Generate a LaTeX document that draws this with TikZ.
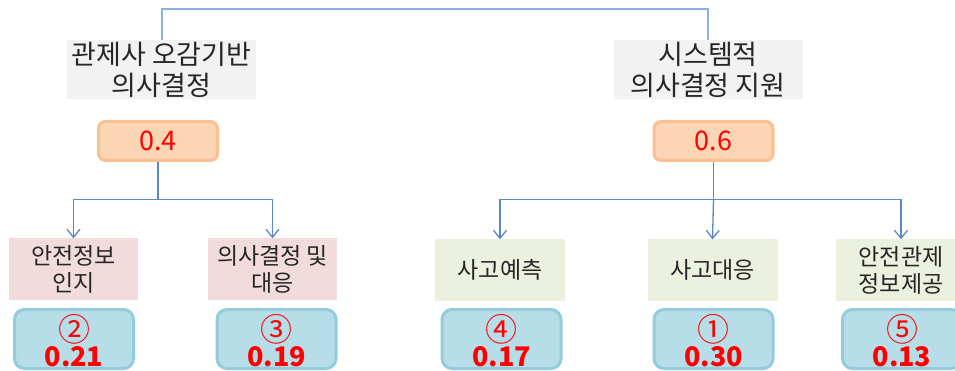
\documentclass[tikz,border=0pt]{standalone}
\usepackage{fontspec}
\setmainfont{Noto Sans CJK KR}
\usetikzlibrary{arrows.meta}
\definecolor{graybg}{HTML}{F2F2F2}
\definecolor{pinkbg}{HTML}{F2DCDB}
\definecolor{greenbg}{HTML}{EBF1DE}
\definecolor{orfill}{HTML}{FCD5B5}
\definecolor{orline}{HTML}{FAC090}
\definecolor{blfill}{HTML}{B7DEE8}
\definecolor{blline}{HTML}{93CDDD}
\definecolor{conn}{HTML}{5A87C5}
\definecolor{connlight}{HTML}{8DB0DE}
\definecolor{txt}{HTML}{262626}
\tikzset{
  toplabel/.style={fill=graybg, minimum width=189pt, minimum height=59pt, inner sep=0pt, align=center,
    font=\fontsize{27}{31}\selectfont, text=txt},
  weightbox/.style={fill=orfill, draw=orline, line width=3pt, rounded corners=7pt, minimum width=119pt,
    minimum height=39pt, inner sep=0pt, font=\fontsize{27}{30}\selectfont, text=red},
  pinklabel/.style={fill=pinkbg, minimum width=129pt, minimum height=61pt, inner sep=0pt, align=center,
    font=\fontsize{23}{27}\selectfont, text=txt},
  greenlabel/.style={fill=greenbg, minimum width=130pt, minimum height=61pt, inner sep=0pt, align=center,
    font=\fontsize{23}{27}\selectfont, text=txt},
  scorebox/.style={fill=blfill, draw=blline, line width=3pt, rounded corners=10pt, minimum width=119pt,
    minimum height=59pt, inner sep=0pt},
  rank/.style={anchor=base, inner sep=0pt, text=red, font=\fontsize{32}{32}\selectfont},
  score/.style={anchor=base, inner sep=0pt, text=red, font=\fontsize{27}{27}\selectfont\bfseries},
  conline/.style={draw=conn, line width=1.3pt},
  arr/.style={draw=conn, line width=1.3pt, -{Straight Barb[length=8pt, width=13pt, line width=1.3pt]}},
}
\begin{document}
\begin{tikzpicture}[x=1pt, y=-1pt]
\useasboundingbox (0,0) rectangle (955,371);
\clip (0,0) rectangle (955,371);
% top labels
\node[toplabel] (L) at (161.5,69.5) {관제사 오감기반\\의사결정};
\node[toplabel] (R) at (708,69.5) {시스템적\\의사결정 지원};
% weights
\node[weightbox] (O1) at (158,141) {0.4};
\node[weightbox] (O2) at (713.5,141) {0.6};
% second level labels
\node[pinklabel] (A1) at (73.5,269) {안전정보\\인지};
\node[pinklabel] (A2) at (272.5,269) {의사결정 및\\대응};
\node[greenlabel] (B1) at (500,270) {사고예측};
\node[greenlabel] (B2) at (712.5,270) {사고대응};
\node[greenlabel] (B3) at (901,270) {안전관제\\정보제공};
% score boxes
\node[scorebox] (C1) at (74,339) {};
\node[scorebox] (C2) at (276.5,339) {};
\node[scorebox] (C3) at (501.5,339) {};
\node[scorebox] (C4) at (713.5,339) {};
\node[scorebox] (C5) at (902,339) {};
\node[rank] (r1) at ([yshift=-2pt]C1.center) {②};
\node[rank] (r2) at ([yshift=-2pt]C2.center) {③};
\node[rank] (r3) at ([yshift=-2pt]C3.center) {④};
\node[rank] (r4) at ([yshift=-2pt]C4.center) {①};
\node[rank] (r5) at ([yshift=-2pt]C5.center) {⑤};
\node[score] (s1) at ([yshift=-27pt]C1.center) {0.21};
\node[score] (s2) at ([yshift=-27pt]C2.center) {0.19};
\node[score] (s3) at ([yshift=-27pt]C3.center) {0.17};
\node[score] (s4) at ([yshift=-27pt]C4.center) {0.30};
\node[score] (s5) at ([yshift=-27pt]C5.center) {0.13};
% connectors
\draw[draw=connlight, line width=2pt] (L.north) -- ++(0,-30.5) -| (R.north);
\draw[conline] (O1.south) -- ++(0,37.5) coordinate (j1);
\draw[arr] (j1) -| (A1.north);
\draw[arr] (j1) -| (A2.north);
\draw[conline] (O2.south) -- ++(0,37.5) coordinate (j2);
\draw[arr] (j2) -| (B1.north);
\draw[arr] (j2) -- (B2.north);
\draw[arr] (j2) -| (B3.north);
\end{tikzpicture}
\end{document}
